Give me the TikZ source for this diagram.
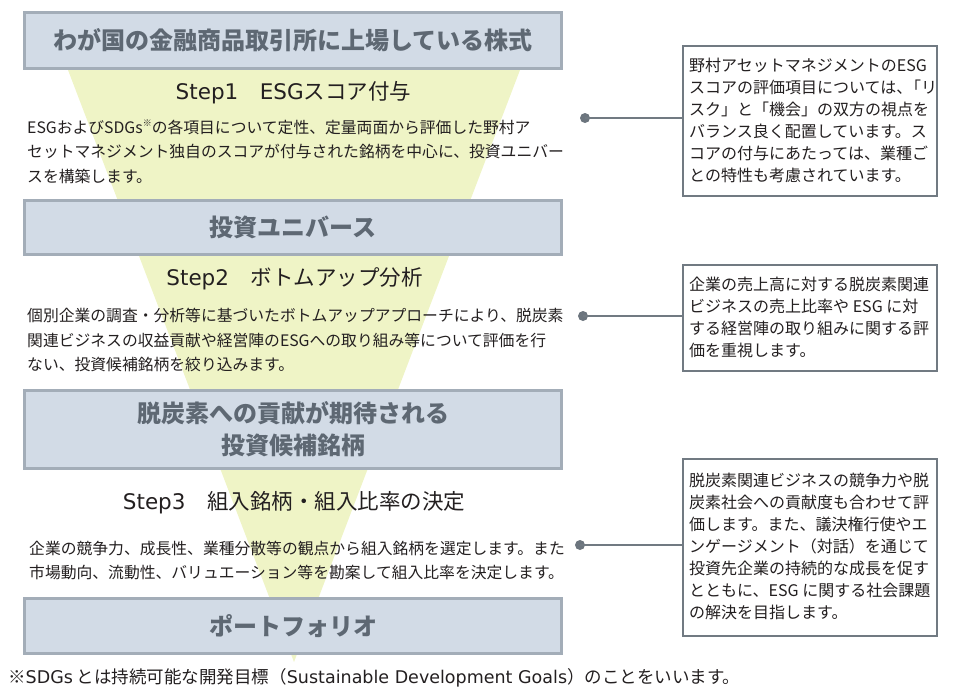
\documentclass[tikz,border=0pt]{standalone}
\usepackage{fontspec}
\setmainfont{Noto Sans CJK JP}
\newfontfamily\lat{DejaVu Sans}
\definecolor{boxfill}{HTML}{D2DBE6}
\definecolor{boxline}{HTML}{A3ADB8}
\definecolor{titletext}{HTML}{5E6873}
\definecolor{funnel}{HTML}{EFF4C6}
\definecolor{noteline}{HTML}{717A82}
\definecolor{dotc}{HTML}{6C757E}
\definecolor{bodytext}{HTML}{231F20}
\tikzset{
  titlebox/.style={draw=boxline, line width=3pt, fill=boxfill, inner sep=0pt,
    minimum width=537pt, text=titletext, align=center,
    font=\fontsize{24}{32}\selectfont\bfseries},
  stephead/.style={inner sep=0pt, text=bodytext, font=\fontsize{21.5}{24}\selectfont},
  bodypar/.style={inner sep=0pt, anchor=west, align=left, text=bodytext,
    font=\fontsize{15.8}{24.5}\selectfont},
  notebox/.style={draw=noteline, line width=1.5pt, fill=white, inner sep=0pt, anchor=north west},
  notetext/.style={inner sep=0pt, anchor=west, align=left, text=bodytext,
    font=\fontsize{16}{22}\selectfont},
  dotnode/.style={circle, fill=dotc, inner sep=0pt, minimum size=10pt},
  link/.style={draw=noteline, line width=1.5pt}
}
\begin{document}
\begin{tikzpicture}[x=1pt,y=-1pt]
\useasboundingbox (0,0) rectangle (960,699);
% funnel
\fill[funnel] (68,70) -- (520,70) -- (294,662) -- cycle;
% title boxes
\node[titlebox, minimum height=56pt] (b1) at (293,40.5) {わが国の金融商品取引所に上場している株式};
\node[titlebox, minimum height=54pt] (b2) at (293,227.5) {投資ユニバース};
\node[titlebox, minimum height=78pt] (b3) at (293,429.5) {脱炭素への貢献が期待される\\投資候補銘柄};
\node[titlebox, minimum height=55pt] (b4) at (293,626) {ポートフォリオ};
% step headings
\node[stephead] (s1) at (293.5,93) {{\lat Step1}　{\lat ESG}スコア付与};
\node[stephead] (s2) at (294.5,279) {{\lat Step2}　ボトムアップ分析};
\node[stephead] (s3) at (294,503) {{\lat Step3}　組入銘柄・組入比率の決定};
% body paragraphs
\node[bodypar] (p1) at (27,151.5) {ESGおよびSDGs\raisebox{0.45em}{\fontsize{9}{9}\selectfont ※}の各項目について定性、定量両面から評価した野村ア\\セットマネジメント独自のスコアが付与された銘柄を中心に、投資ユニバー\\スを構築します。};
\node[bodypar] (p2) at (27,340) {個別企業の調査・分析等に基づいたボトムアップアプローチにより、脱炭素\\関連ビジネスの収益貢献や経営陣のESGへの取り組み等について評価を行\\ない、投資候補銘柄を絞り込みます。};
\node[bodypar] (p3) at (29,560.5) {企業の競争力、成長性、業種分散等の観点から組入銘柄を選定します。また\\市場動向、流動性、バリュエーション等を勘案して組入比率を決定します。};
% note boxes
\node[notebox, minimum width=254pt, minimum height=150pt] (r1) at (682,45) {};
\node[notetext] (t1) at (689,120) {野村アセットマネジメントのESG\\スコアの評価項目については、\kern-0.45em「リ\\スク」と「機会」の双方の視点を\\バランス良く配置しています。ス\\コアの付与にあたっては、業種ご\\との特性も考慮されています。};
\node[notebox, minimum width=254pt, minimum height=106pt] (r2) at (682,264) {};
\node[notetext] (t2) at (689,317) {企業の売上高に対する脱炭素関連\\ビジネスの売上比率や\ ESG\ に対\\する経営陣の取り組みに関する評\\価を重視します。};
\node[notebox, minimum width=254pt, minimum height=177pt] (r3) at (682,458) {};
\node[notetext] (t3) at (689,546.5) {脱炭素関連ビジネスの競争力や脱\\炭素社会への貢献度も合わせて評\\価します。また、議決権行使やエ\\ンゲージメント（対話）を通じて\\投資先企業の持続的な成長を促す\\とともに、ESG に関する社会課題\\の解決を目指します。};
% connectors
\node[dotnode] (d1) at (585,118) {};
\node[dotnode] (d2) at (583,316) {};
\node[dotnode] (d3) at (580,545) {};
\draw[link] (d1.center) -- (d1.center -| r1.west);
\draw[link] (d2.center) -- (d2.center -| r2.west);
\draw[link] (d3.center) -- (d3.center -| r3.west);
% footnote
\node[inner sep=0pt, anchor=west, text=bodytext, font=\fontsize{17.5}{20}\selectfont] (fn) at (8,678) {※{\lat SDGs} とは持続可能な開発目標（{\lat Sustainable Development Goals}）のことをいいます。};
\end{tikzpicture}
\end{document}
